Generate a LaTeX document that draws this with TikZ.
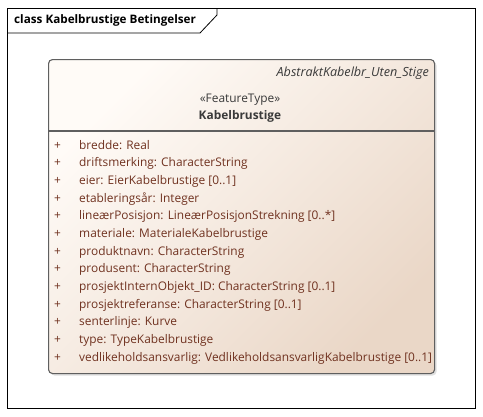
\documentclass[tikz,border=0pt]{standalone}
\usepackage{fontspec}
\setmainfont{Open Sans}
\usetikzlibrary{shadows}
\definecolor{boxlight}{RGB}{255,251,247}
\definecolor{boxdark}{RGB}{234,215,199}
\definecolor{attrtext}{RGB}{112,50,32}
\definecolor{headtext}{RGB}{58,58,58}
\definecolor{boxline}{RGB}{95,95,95}

\begin{document}
\begin{tikzpicture}[x=1pt,y=-1pt,
	attr/.style={anchor=west, inner sep=0pt, text=attrtext, text height=9pt, text depth=3pt, font=\fontsize{11.9}{13}\selectfont},
	head/.style={inner sep=0pt, text=headtext, font=\fontsize{11.9}{13}\selectfont},
	classbox/.style={draw=boxline, line width=1.1pt, rounded corners=4pt, top color=boxlight, bottom color=boxdark, shading angle=45, drop shadow={shadow xshift=2pt, shadow yshift=-2pt, opacity=0.25}}]
	\useasboundingbox (0,0) rectangle (483,416);
	% frame and title tab
	\draw [line width=0.8pt] (7,8) rectangle (475,408);
	\draw [line width=0.8pt] (7,33) -- (200,33) -- (217,15) -- (217,8);
	\node [anchor=west, inner sep=0pt, font=\fontsize{11.7}{13}\selectfont\bfseries] (title) at (14,20.5) {class Kabelbrustige Betingelser};
	% class box
	\node [classbox, anchor=north west, minimum width=386pt, minimum height=314pt] (kabel) at (48,59) {};
	\coordinate (sep) at (0,131);
	\draw [boxline, line width=1.1pt] (kabel.west |- sep) -- (kabel.east |- sep);
	\node [head, anchor=east, font=\fontsize{12.6}{14}\selectfont\itshape] (parent) at (429,73) {AbstraktKabelbr\_Uten\_Stige};
	\node [head] (stereo) at (240,99.5) {«FeatureType»};
	\node [head, font=\fontsize{11.9}{13}\selectfont\bfseries] (name) at (240,116) {Kabelbrustige};
	% attributes
	\node [attr] (bredde) at (54,146) {\makebox[25pt][l]{+}bredde: Real};
	\node [attr] (drift) at (54,163.7) {\makebox[25pt][l]{+}driftsmerking: CharacterString};
	\node [attr] (eier) at (54,181.3) {\makebox[25pt][l]{+}eier: EierKabelbrustige [0..1]};
	\node [attr] (etabl) at (54,199) {\makebox[25pt][l]{+}etableringsår: Integer};
	\node [attr] (linear) at (54,216.7) {\makebox[25pt][l]{+}lineærPosisjon: LineærPosisjonStrekning [0..*]};
	\node [attr] (materiale) at (54,234.3) {\makebox[25pt][l]{+}materiale: MaterialeKabelbrustige};
	\node [attr] (produktnavn) at (54,252) {\makebox[25pt][l]{+}produktnavn: CharacterString};
	\node [attr] (produsent) at (54,269.7) {\makebox[25pt][l]{+}produsent: CharacterString};
	\node [attr] (internid) at (54,287.3) {\makebox[25pt][l]{+}prosjektInternObjekt\_ID: CharacterString [0..1]};
	\node [attr] (prosjref) at (54,305) {\makebox[25pt][l]{+}prosjektreferanse: CharacterString [0..1]};
	\node [attr] (senter) at (54,322.7) {\makebox[25pt][l]{+}senterlinje: Kurve};
	\node [attr] (type) at (54,340.3) {\makebox[25pt][l]{+}type: TypeKabelbrustige};
	\node [attr] (vedlike) at (54,358) {\makebox[25pt][l]{+}vedlikeholdsansvarlig: VedlikeholdsansvarligKabelbrustige [0..1]};
\end{tikzpicture}
\end{document}
